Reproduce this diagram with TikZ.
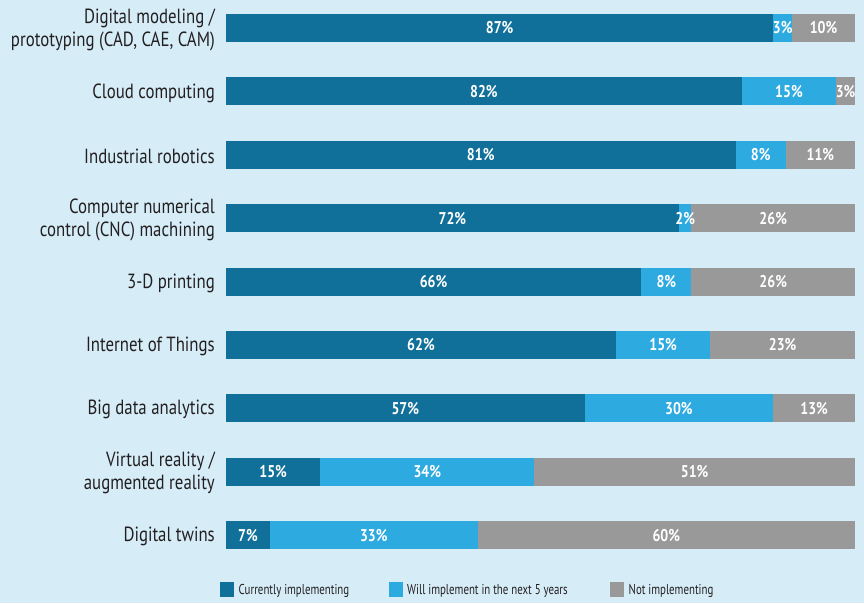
\documentclass[tikz,border=0pt]{standalone}
\usepackage{fontspec}
\setmainfont{PT Sans}[FakeStretch=0.82]
\newfontfamily\keyfont{PT Sans}[FakeStretch=0.76]
\definecolor{bgblue}{HTML}{D6EDF8}
\definecolor{curblue}{HTML}{117099}
\definecolor{nextblue}{HTML}{2DAAE0}
\definecolor{notgray}{HTML}{999999}
\definecolor{labtext}{HTML}{231F20}
\begin{document}
\begin{tikzpicture}[x=1pt, y=-1pt,
    lab/.style={anchor=east, align=right, inner sep=0pt, text=labtext,
        font=\fontsize{20.5}{23}\selectfont},
    pct/.style={inner sep=0pt, text=white, font=\fontsize{17}{17}\selectfont\bfseries},
    key/.style={minimum width=14pt, minimum height=15pt, inner sep=0pt},
    keytext/.style={anchor=west, inner sep=0pt, text=labtext,
        font=\fontsize{14.3}{15}\keyfont}]
    \useasboundingbox[fill=bgblue] (0,0) rectangle (864,603);

    % Bars: current / next 5 years / not implementing
    \foreach \i/\name/\a/\b/\c in {
        0/{Digital modeling /\\prototyping (CAD, CAE, CAM)}/87/3/10,
        1/{Cloud computing}/82/15/3,
        2/{Industrial robotics}/81/8/11,
        3/{Computer numerical\\control (CNC) machining}/72/2/26,
        4/{3-D printing}/66/8/26,
        5/{Internet of Things}/62/15/23,
        6/{Big data analytics}/57/30/13,
        7/{Virtual reality /\\augmented reality}/15/34/51,
        8/{Digital twins}/7/33/60}
    {
        \pgfmathsetmacro{\y}{28+63.4*\i}
        \pgfmathsetmacro{\xa}{226+6.29*\a}
        \pgfmathsetmacro{\xb}{\xa+6.29*\b}
        \fill[curblue] (226,\y-14) rectangle (\xa,\y+14);
        \fill[nextblue] (\xa,\y-14) rectangle (\xb,\y+14);
        \fill[notgray] (\xb,\y-14) rectangle (855,\y+14);
        \node[lab] (lab\i) at (215,\y+1.5) {\name};
        \node[pct] (cur\i) at ({(226+\xa)/2},\y) {\a\%};
        \node[pct] (nxt\i) at ({(\xa+\xb)/2},\y) {\b\%};
        \node[pct] (not\i) at ({(\xb+855)/2},\y) {\c\%};
    }

    % Legend
    \node[key, fill=curblue] (k1) at (227,589.5) {};
    \node[keytext] (t1) at (238.5,591) {Currently implementing};
    \node[key, fill=nextblue] (k2) at (395.5,589.5) {};
    \node[keytext] (t2) at (407,591) {Will implement in the next 5 years};
    \node[key, fill=notgray] (k3) at (617,589.5) {};
    \node[keytext] (t3) at (628.5,591) {Not implementing};
\end{tikzpicture}
\end{document}
